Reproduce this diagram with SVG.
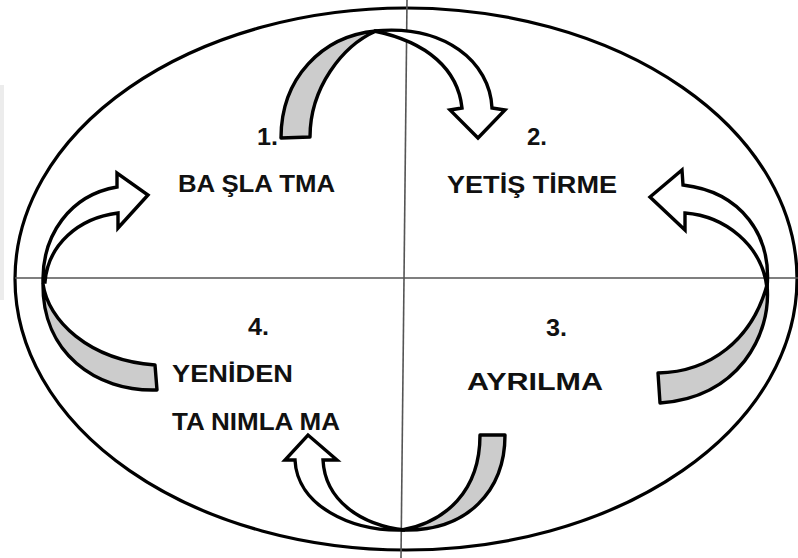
<svg xmlns="http://www.w3.org/2000/svg" width="798" height="558" viewBox="0 0 798 558">
<style>
.axis{stroke:#555;stroke-width:1.6;fill:none}
.oval{fill:none;stroke:#000;stroke-width:3.2}
.back{fill:#cccccc;stroke:#000;stroke-width:3.4;stroke-linejoin:round}
.front{fill:#fff;stroke:#000;stroke-width:3.4;stroke-linejoin:miter}
.lbl{font-family:"Liberation Sans",Arial,sans-serif;font-weight:bold;font-size:24px;fill:#111}
</style>
<rect width="798" height="558" fill="#fff"/>
<rect x="0" y="85" width="4" height="215" fill="#ececec"/>
<g id="frame">
<ellipse class="oval" cx="406" cy="279" rx="391" ry="271"/>
<line class="axis" x1="15" y1="278" x2="798" y2="278"/>
<line class="axis" x1="407" y1="0" x2="401" y2="558"/>
</g>
<g id="connectors">
<g id="arrow-1-2">
<path class="back" d="M281,138 C281,78 322,36 376,31 C342,46 310,88 310,137 Z"/>
<path class="front" d="M374,31 C445,24 490,62 492,108 L505,110 L478,138 L450,110 L462,108 C458,70 428,42 374,31 Z"/>
</g>
<g id="arrow-3-2">
<path class="back" d="M658,373 C710,372 752,340 767,285 C772,335 738,398 660,403 Z"/>
<path class="front" d="M767,288 C772,236 742,192 683,185 L682,170 L650,197 L685,230 L685,213 C725,216 762,245 767,288 Z"/>
</g>
<g id="arrow-3-4">
<path class="back" d="M480,435 L505,435 C505,490 468,532 402,530 C445,522 480,492 480,435 Z"/>
<path class="front" d="M405,530 C350,532 297,505 295,460 L285,460 L308,435 L337,460 L323,460 C325,500 360,525 405,530 Z"/>
</g>
<g id="arrow-4-1">
<path class="back" d="M155,365 L157,390 C95,392 42,352 43,284 C48,320 88,360 155,365 Z"/>
<path class="front" d="M43,282 C42,235 70,195 117,187 L117,173 L148,195 L118,228 L118,213 C78,218 48,245 45,282 Z"/>
</g>
</g>
<g id="node-1">
<text class="lbl" x="257" y="145" textLength="21" lengthAdjust="spacingAndGlyphs">1.</text>
<text class="lbl" x="178" y="192" textLength="157" lengthAdjust="spacingAndGlyphs">BA ŞLA TMA</text>
</g>
<g id="node-2">
<text class="lbl" x="527" y="145" textLength="20" lengthAdjust="spacingAndGlyphs">2.</text>
<text class="lbl" x="447" y="193" textLength="170" lengthAdjust="spacingAndGlyphs">YETİŞ TİRME</text>
</g>
<g id="node-3">
<text class="lbl" x="546" y="336" textLength="21" lengthAdjust="spacingAndGlyphs">3.</text>
<text class="lbl" x="467" y="390" textLength="136" lengthAdjust="spacingAndGlyphs">AYRILMA</text>
</g>
<g id="node-4">
<text class="lbl" x="248" y="335" textLength="21" lengthAdjust="spacingAndGlyphs">4.</text>
<text class="lbl" x="172" y="382" textLength="121" lengthAdjust="spacingAndGlyphs">YENİDEN</text>
<text class="lbl" x="172" y="430" textLength="168" lengthAdjust="spacingAndGlyphs">TA NIMLA MA</text>
</g>
</svg>
